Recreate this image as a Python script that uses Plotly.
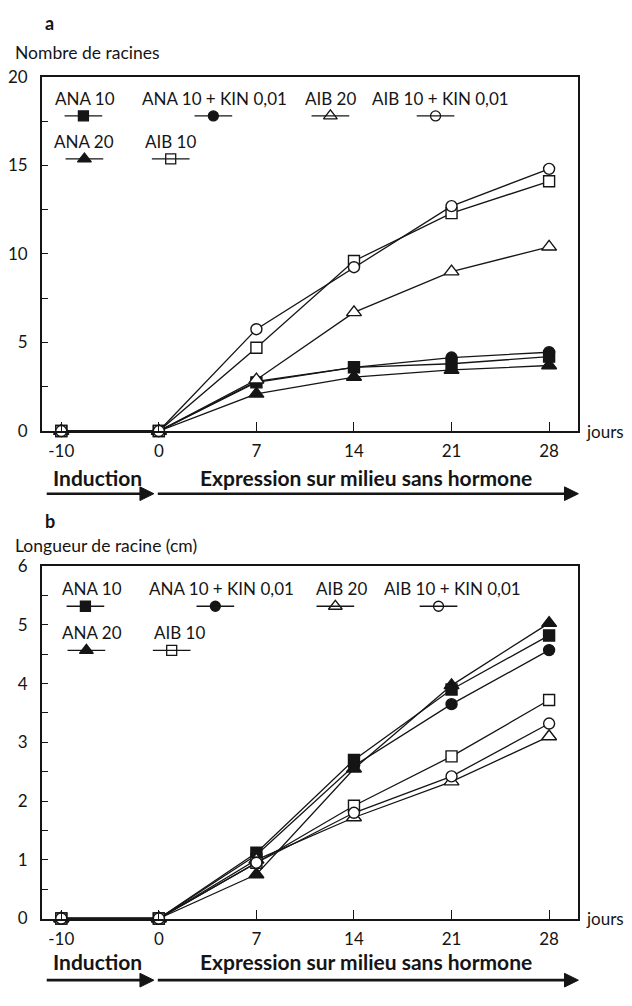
import plotly.graph_objects as go

# ---------------- data ----------------
days = ["-10", "0", "7", "14", "21", "28"]
series_names = ["ANA 10 + KIN 0,01", "ANA 20", "ANA 10", "AIB 20", "AIB 10", "AIB 10 + KIN 0,01"]

# panel a : Nombre de racines
a_ana10 = [0, 0, 2.75, 3.6, 3.8, 4.2]
a_ana20 = [0, 0, 2.1, 3.05, 3.45, 3.7]
a_ana10_kin = [0, 0, 2.8, 3.6, 4.15, 4.45]
a_aib20 = [0, 0, 2.9, 6.7, 9.0, 10.4]
a_aib10 = [0, 0, 4.7, 9.6, 12.3, 14.1]
a_aib10_kin = [0, 0, 5.75, 9.25, 12.7, 14.8]

# panel b : Longueur de racine (cm)
b_ana10 = [0, 0, 1.12, 2.7, 3.9, 4.82]
b_ana20 = [0, 0, 0.75, 2.55, 3.97, 5.03]
b_ana10_kin = [0, 0, 1.08, 2.6, 3.65, 4.57]
b_aib20 = [0, 0, 1.0, 1.72, 2.33, 3.1]
b_aib10 = [0, 0, 0.95, 1.92, 2.76, 3.72]
b_aib10_kin = [0, 0, 0.95, 1.8, 2.42, 3.32]

a_ticks = [0, 5, 10, 15, 20]
b_ticks = [0, 1, 2, 3, 4, 5, 6]

# ---------------- styles ----------------
OFF = 8                      # default page body margin
PAGE_W, PAGE_H = 632, 1006
W, H = PAGE_W - 2 * OFF, PAGE_H - 2 * OFF
FONT = "Lato"
INK = "#151515"
styles = {
    "ANA 10": dict(symbol="square", color=INK),
    "ANA 20": dict(symbol="triangle-up", color=INK),
    "ANA 10 + KIN 0,01": dict(symbol="circle", color=INK),
    "AIB 20": dict(symbol="triangle-up", color="white"),
    "AIB 10": dict(symbol="square", color="white"),
    "AIB 10 + KIN 0,01": dict(symbol="circle", color="white"),
}
sizes = {"square": 11, "circle": 11, "triangle-up": 13}

fig = go.Figure()

panels = [
    ("x", "y", [a_ana10_kin, a_ana20, a_ana10, a_aib20, a_aib10, a_aib10_kin]),
    ("x2", "y2", [b_ana10_kin, b_ana20, b_ana10, b_aib20, b_aib10, b_aib10_kin]),
]
for xr, yr, vals in panels:
    for name, v in zip(series_names, vals):
        st = styles[name]
        fig.add_trace(go.Scatter(
            x=days, y=v, xaxis=xr, yaxis=yr, mode="lines+markers",
            line=dict(color=INK, width=1.3),
            marker=dict(symbol=st["symbol"], size=sizes[st["symbol"]], color=st["color"],
                        line=dict(color=INK, width=1.4)),
            cliponaxis=False, showlegend=False, name=name))

# ---------------- layout ----------------
def ydom(top_px, bot_px):
    return [1 - (bot_px - OFF) / H, 1 - (top_px - OFF) / H]

xdom = [(37 - OFF) / W, (578 - OFF) / W]
common_x = dict(type="category", range=[-0.2, 5.3], domain=xdom, showline=True, linecolor=INK,
                linewidth=1.5, mirror=True, ticks="inside", ticklen=9, tickwidth=1, tickcolor=INK,
                showgrid=False, zeroline=False, ticklabelstandoff=4,
                tickfont=dict(family=FONT, size=17, color=INK))
common_y = dict(showline=True, linecolor=INK, linewidth=1.5, mirror=True, ticks="inside",
                ticklen=6, tickwidth=1, tickcolor=INK, showgrid=False, zeroline=False,
                ticklabelstandoff=9, tickfont=dict(family=FONT, size=17, color=INK))

fig.update_layout(
    width=W, height=H, margin=dict(l=0, r=0, t=0, b=0, pad=0),
    paper_bgcolor="white", plot_bgcolor="rgba(0,0,0,0)",
    xaxis=dict(common_x, anchor="y"),
    yaxis=dict(common_y, anchor="x", domain=ydom(67, 429), range=[0, 20],
               tickvals=a_ticks, minor=dict(ticks="inside", dtick=2.5, ticklen=6, tickcolor=INK)),
    xaxis2=dict(common_x, anchor="y2"),
    yaxis2=dict(common_y, anchor="x2", domain=ydom(567, 927), range=[0, 6],
                tickvals=b_ticks, minor=dict(ticks="inside", dtick=0.5, ticklen=6, tickcolor=INK)),
    # overlay expressed in page pixels
    xaxis3=dict(domain=[0, 1], range=[OFF, PAGE_W - OFF], visible=False, anchor="y3", fixedrange=True),
    yaxis3=dict(domain=[0, 1], range=[PAGE_H - OFF, OFF], visible=False, anchor="x3", fixedrange=True),
)

ann = []
shapes = []

def text(x, y, s, size=17, bold=False, xanchor="center"):
    ann.append(dict(x=x, y=y, xref="x3", yref="y3", text=f"<b>{s}</b>" if bold else s,
                    showarrow=False, xanchor=xanchor, yanchor="middle", borderpad=0,
                    font=dict(family=FONT, size=size, color=INK)))

def arrow(x0, x1, y):
    shapes.append(dict(type="line", xref="x3", yref="y3", x0=x0, x1=x1 - 10, y0=y, y1=y,
                       line=dict(color=INK, width=2.6)))
    shapes.append(dict(type="path", xref="x3", yref="y3",
                       path=f"M {x1-14},{y-7} L {x1},{y} L {x1-14},{y+7} Z",
                       fillcolor=INK, line=dict(color=INK, width=1)))

legend_pos = {
    "a": dict(rows=[89, 133],
              items={"ANA 10": (79, 81, 0), "ANA 10 + KIN 0,01": (210, 211, 0),
                     "AIB 20": (328, 328, 0), "AIB 10 + KIN 0,01": (434, 439, 0),
                     "ANA 20": (80, 80, 1), "AIB 10": (167, 167, 1)}),
    "b": dict(rows=[590, 635],
              items={"ANA 10": (81, 88, 0), "ANA 10 + KIN 0,01": (212, 218, 0),
                     "AIB 20": (333, 339, 0), "AIB 10 + KIN 0,01": (437, 451, 0),
                     "ANA 20": (82, 88, 1), "AIB 10": (168, 176, 1)}),
}
for key, lp in legend_pos.items():
    for name, (mx, tx, row) in lp["items"].items():
        ty = lp["rows"][row]
        my = ty + 18
        text(tx, ty, name, size=17)
        shapes.append(dict(type="line", xref="x3", yref="y3", x0=mx - 19, x1=mx + 19,
                           y0=my, y1=my, line=dict(color=INK, width=1.3)))
        st = styles[name]
        fig.add_trace(go.Scatter(x=[mx], y=[my], xaxis="x3", yaxis="y3", mode="markers",
                                 marker=dict(symbol=st["symbol"], size=sizes[st["symbol"]] - 1,
                                             color=st["color"], line=dict(color=INK, width=1.3)),
                                 showlegend=False, hoverinfo="skip", cliponaxis=False))

# titles / labels
text(45, 12, "a", size=18, bold=True)
text(9, 42, "Nombre de racines", size=17.5, xanchor="left")
text(585, 429, "jours", size=17, xanchor="left")
text(93, 476, "Induction", size=21, bold=True)
text(364, 476, "Expression sur milieu sans hormone", size=21, bold=True)
arrow(42, 150, 493)
arrow(154, 578, 493)

text(45, 521, "b", size=18, bold=True)
text(9, 546, "Longueur de racine (cm)", size=17.5, xanchor="left")
text(585, 927, "jours", size=17, xanchor="left")
text(93, 971, "Induction", size=21, bold=True)
text(364, 971, "Expression sur milieu sans hormone", size=21, bold=True)
arrow(42, 150, 990)
arrow(154, 578, 990)

fig.update_layout(annotations=ann, shapes=shapes)
fig.write_html("out.html")
